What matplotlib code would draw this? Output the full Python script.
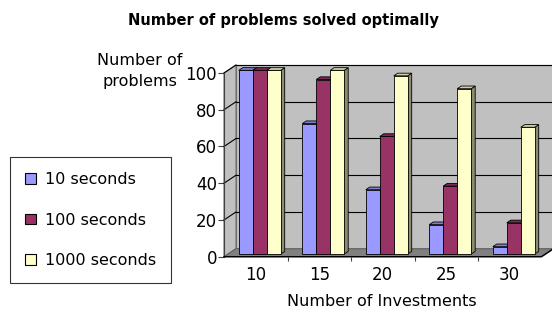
import matplotlib

matplotlib.use("Agg")
import matplotlib.pyplot as plt
import numpy as np
from matplotlib.patches import Polygon, Rectangle

# chart data
investments = ["10", "15", "20", "25", "30"]
series_labels = ["10 seconds", "100 seconds", "1000 seconds"]
solved_10s = [100, 71, 35, 16, 4]
solved_100s = [100, 95, 64, 37, 17]
solved_1000s = [100, 100, 97, 90, 69]
y_ticks = [0, 20, 40, 60, 80, 100]

colors = ["#9999ff", "#993366", "#ffffcc"]

plt.rcParams["font.family"] = ["DejaVu Sans"]

W, H = 552, 309
fig = plt.figure(figsize=(W / 100, H / 100), dpi=100)

# pixel geometry of the pseudo-3D frame
cat_px = 63.5          # one category on the front plane
unit_px = 1.837        # one value unit on the front plane
depth_px = (12, 8)     # offset front -> back wall
ncat = len(investments)
ddx = depth_px[0] / cat_px
ddy = depth_px[1] / unit_px
ymax = 100

left_px, base_px = 224, 256.7
ax = fig.add_axes([
    left_px / W,
    (H - base_px) / H,
    (ncat + ddx) * cat_px / W,
    (ymax + ddy) * unit_px / H,
])
ax.set_xlim(0, ncat + ddx)
ax.set_ylim(0, ymax + ddy)
for s in ax.spines.values():
    s.set_visible(False)
ax.patch.set_visible(False)

edge = "#707070"
# back wall, left wall, floor
ax.add_patch(Rectangle((ddx, ddy), ncat, ymax, facecolor="#c0c0c0",
                       edgecolor=edge, lw=0.8, zorder=1, clip_on=False))
ax.add_patch(Polygon([(0, 0), (ddx, ddy), (ddx, ymax + ddy), (0, ymax)],
                     closed=True, facecolor="#c0c0c0", edgecolor=edge,
                     lw=0.8, zorder=1, clip_on=False))
ax.add_patch(Polygon([(0, 0), (ncat, 0), (ncat + ddx, ddy), (ddx, ddy)],
                     closed=True, facecolor="#808080", edgecolor="#606060",
                     lw=0.8, zorder=1, clip_on=False))

# gridlines on both walls
for v in y_ticks[1:]:
    ax.plot([ddx, ncat + ddx], [v + ddy, v + ddy], color="black", lw=0.8, zorder=2,
            clip_on=False)
    ax.plot([0, ddx], [v, v + ddy], color="black", lw=0.8, zorder=2, clip_on=False)
ax.plot([0, 0], [0, ymax], color="#404040", lw=0.8, zorder=2, clip_on=False)
ax.plot([0, ncat, ncat + ddx], [0, 0, ddy], color="black", lw=1.0, zorder=2,
        clip_on=False)


def shade(c, f):
    rgb = np.array(matplotlib.colors.to_rgb(c))
    return tuple(rgb * f)


# bars: front face at 1/3 depth, back face at 2/3 depth
series = [solved_10s, solved_100s, solved_1000s]
gap = 0.17
bw = (1 - 2 * gap) / len(series)
fx, fy = ddx / 3, ddy / 3
bx, by = 2 * ddx / 3, 2 * ddy / 3
for i in range(ncat):
    for j, vals in enumerate(series):
        v = vals[i]
        x0 = i + gap + j * bw
        c = colors[j]
        z = 3 + j * 0.1
        ax.add_patch(Polygon([(x0 + bw + fx, fy), (x0 + bw + bx, by),
                              (x0 + bw + bx, v + by), (x0 + bw + fx, v + fy)],
                             closed=True, facecolor=shade(c, 0.55),
                             edgecolor="black", lw=0.6, zorder=z))
        ax.add_patch(Polygon([(x0 + fx, v + fy), (x0 + bw + fx, v + fy),
                              (x0 + bw + bx, v + by), (x0 + bx, v + by)],
                             closed=True, facecolor=shade(c, 0.82),
                             edgecolor="black", lw=0.6, zorder=z))
        ax.add_patch(Rectangle((x0 + fx, fy), bw, v, facecolor=c,
                               edgecolor="black", lw=0.6, zorder=z))

# axes ticks
ax.set_yticks(y_ticks)
ax.set_yticklabels([str(v) for v in y_ticks])
ax.tick_params(axis="y", direction="out", length=4, width=0.8, color="#404040",
               labelsize=12, pad=1)
ax.set_xticks(np.arange(ncat) + 0.5)
ax.set_xticklabels(investments)
ax.set_xticks(np.arange(1, ncat), minor=True)
ax.tick_params(axis="x", which="major", length=0, labelsize=12, pad=7)
ax.tick_params(axis="x", which="minor", length=3, width=0.8, color="#404040")

fig.text(283 / W, 1 - 20 / H, "Number of problems solved optimally",
         ha="center", va="center", fontsize=10.5, fontweight="bold")
fig.text(140 / W, 1 - 71 / H, "Number of\nproblems", ha="center", va="center",
         fontsize=11.5, linespacing=1.5)
fig.text(382 / W, 1 - 301 / H, "Number of Investments", ha="center",
         va="center", fontsize=11.5)

handles = [Rectangle((0, 0), 1, 1, facecolor=c, edgecolor="black", lw=0.8)
           for c in colors]
leg = fig.legend(handles, series_labels, loc="upper left",
                 bbox_to_anchor=(10 / W, 1 - 157 / H), fontsize=11.5,
                 frameon=True, fancybox=False, edgecolor="black",
                 handlelength=0.65, handleheight=0.65, handletextpad=0.6,
                 labelspacing=1.6, borderpad=0.95, borderaxespad=0)
leg.get_frame().set_linewidth(0.8)

fig.savefig("out.png", dpi=100)
